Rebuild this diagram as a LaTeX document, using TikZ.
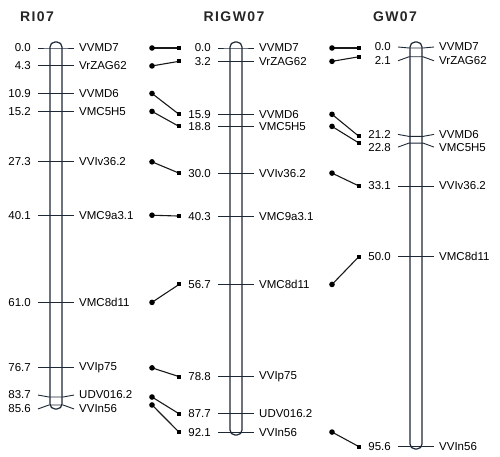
\documentclass[tikz,border=0pt]{standalone}
\usepackage{fontspec}
\setmainfont{Liberation Sans}
\newfontfamily\titlefont[LetterSpace=10]{Liberation Sans Bold}

\definecolor{chromline}{RGB}{30,40,55}

\tikzset{
  mapline/.style={draw=chromline, line width=1.2pt, rounded corners=5pt},
  tickline/.style={draw=chromline, line width=0.9pt},
  poslabel/.style={anchor=east, inner sep=0pt, font=\fontsize{11.5}{12}\selectfont},
  namelabel/.style={anchor=west, inner sep=0pt, font=\fontsize{11.5}{12}\selectfont},
  maptitle/.style={inner sep=0pt, font=\titlefont\fontsize{14}{14}\selectfont, text=black!85},
  joinline/.style={draw=black!90, line width=1.1pt},
}

\begin{document}
\begin{tikzpicture}[x=1pt, y=-1pt]
    \useasboundingbox (0,0) rectangle (500,457);

    % ================= RI07 =================
    \begin{scope}[xshift=56pt]
    \node[maptitle] (tri) at (-19,17) {RI07};
    \draw[mapline] (-6,42) rectangle (6,409);
    \foreach \p/\d/\m [count=\i] in {0.0/0/VVMD7, 4.3/0/VrZAG62, 10.9/0/VVMD6,
        15.2/0/VMC5H5, 27.3/0/VVIv36.2, 40.1/0/VMC9a3.1, 61.0/0/VMC8d11,
        76.7/0/VVIp75, 83.7/-2/UDV016.2, 85.6/4/VVIn56}{
      \draw[tickline] (-18,{48+4.17*\p+\d}) -- (-7,{48+4.17*\p})
          -- (7,{48+4.17*\p}) -- (18,{48+4.17*\p+\d});
      \node[poslabel] (rip\i) at (-25,{48+4.17*\p+\d}) {\p};
      \node[namelabel] (rim\i) at (23,{48+4.17*\p+\d}) {\m};
    }
    \end{scope}

    % ================= RIGW07 =================
    \begin{scope}[xshift=236pt]
    \node[maptitle] (trigw) at (-2,17) {RIGW07};
    \draw[mapline] (-6,42) rectangle (6,435);
    \foreach \p/\d/\m [count=\i] in {0.0/0/VVMD7, 3.2/0/VrZAG62, 15.9/0/VVMD6,
        18.8/0/VMC5H5, 30.0/0/VVIv36.2, 40.3/0/VMC9a3.1, 56.7/0/VMC8d11,
        78.8/0/VVIp75, 87.7/0/UDV016.2, 92.1/0/VVIn56}{
      \draw[tickline] (-18,{48+4.17*\p+\d}) -- (-7,{48+4.17*\p})
          -- (7,{48+4.17*\p}) -- (18,{48+4.17*\p+\d});
      \node[poslabel] (rgp\i) at (-25,{48+4.17*\p+\d}) {\p};
      \node[namelabel] (rgm\i) at (23,{48+4.17*\p+\d}) {\m};
    }
    \end{scope}

    % ================= GW07 =================
    \begin{scope}[xshift=416pt]
    \node[maptitle] (tgw) at (-21,17) {GW07};
    \draw[mapline] (-6,42) rectangle (6,449);
    \foreach \p/\d/\m [count=\i] in {0.0/-1/VVMD7, 2.1/4/VrZAG62, 21.2/-2/VVMD6,
        22.8/4/VMC5H5, 33.1/0/VVIv36.2, 50.0/0/VMC8d11, 95.6/0/VVIn56}{
      \draw[tickline] (-18,{48+4.17*\p+\d}) -- (-7,{48+4.17*\p})
          -- (7,{48+4.17*\p}) -- (18,{48+4.17*\p+\d});
      \node[poslabel] (gwp\i) at (-25,{48+4.17*\p+\d}) {\p};
      \node[namelabel] (gwm\i) at (23,{48+4.17*\p+\d}) {\m};
    }
    \end{scope}

    % joins RI07 -> RIGW07
    \foreach \a/\b [count=\i] in {0.0/0.0, 4.3/3.2, 10.9/15.9, 15.2/18.8, 27.3/30.0,
        40.1/40.3, 61.0/56.7, 76.7/78.8, 83.7/87.7, 85.6/92.1}{
      \coordinate (ja\i) at (152,{48+4.17*\a});
      \coordinate (jb\i) at (179,{48+4.17*\b});
      \draw[joinline] (ja\i) -- (jb\i);
      \fill (ja\i) circle (2.8pt);
      \fill (jb\i) ++(-2pt,-2pt) rectangle ++(4pt,4pt);
    }

    % joins RIGW07 -> GW07
    \foreach \a/\b [count=\i] in {0.0/0.0, 3.2/2.1, 15.9/21.2, 18.8/22.8, 30.0/33.1,
        56.7/50.0, 92.1/95.6}{
      \coordinate (ka\i) at (332,{48+4.17*\a});
      \coordinate (kb\i) at (359,{48+4.17*\b});
      \draw[joinline] (ka\i) -- (kb\i);
      \fill (ka\i) circle (2.8pt);
      \fill (kb\i) ++(-2pt,-2pt) rectangle ++(4pt,4pt);
    }
\end{tikzpicture}
\end{document}
